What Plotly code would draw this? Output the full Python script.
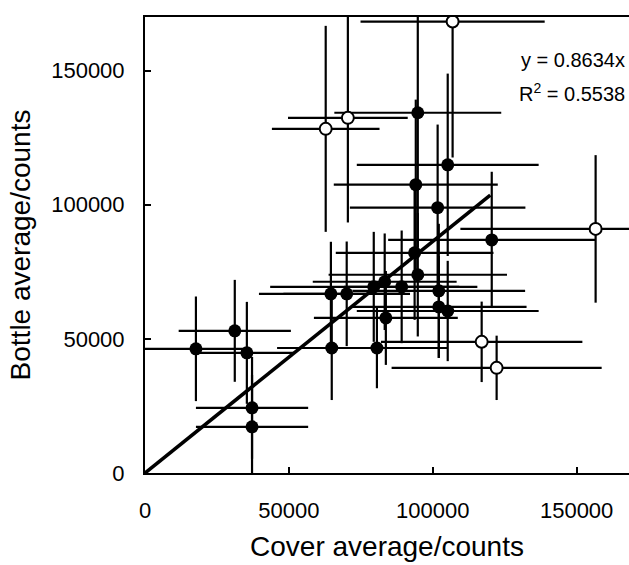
import plotly.graph_objects as go

# Filled (closed) symbols: cover average, bottle average, x error, y error
filled_x = [17700, 31200, 35400, 37200, 37200, 64600, 64900, 70100, 80600, 79500,
            83300, 83700, 89200, 93700, 94800, 102100, 102100, 105200, 101700, 94100,
            105200, 94800, 120500]
filled_y = [46300, 53000, 44800, 24300, 17200, 66800, 46600, 66800, 46600, 69400,
            71300, 57800, 69400, 82100, 73900, 67900, 61900, 60400, 98900, 107500,
            114900, 134300, 86900]
filled_xerr = [19000, 19500, 16500, 19500, 19500, 25000, 19000, 22000, 24700, 36000,
               25000, 25000, 20000, 27400, 31000, 30000, 30500, 31600, 30500, 28500,
               31600, 29000, 36000]
filled_yerr = [19500, 19000, 19000, 19000, 19400, 19400, 19400, 19500, 15000, 20500,
               18000, 17500, 21000, 25000, 23000, 25000, 19000, 18700, 31000, 31700,
               34000, 50000, 25400]

# Open symbols
open_x = [62800, 70500, 106900, 156600, 117000, 122200]
open_y = [128300, 132400, 168300, 91000, 48900, 39200]
open_xerr = [18700, 20800, 32000, 47000, 35000, 36500]
open_yerr = [38400, 39000, 50700, 27500, 15000, 12000]

# Regression through origin
slope = 0.8634
r_squared = 0.5538
fit_x = [0, 120000]
fit_y = [slope * v for v in fit_x]

tick_vals = [0, 50000, 100000, 150000]
tick_text = ["0", "50000", "100000", "150000"]

FONT = "Liberation Sans, Arial, sans-serif"

fig = go.Figure()

fig.add_trace(go.Scatter(
    x=filled_x, y=filled_y, mode="markers",
    marker=dict(size=13, color="black", line=dict(width=0)),
    error_x=dict(type="data", array=filled_xerr, width=0, thickness=2.2, color="black"),
    error_y=dict(type="data", array=filled_yerr, width=0, thickness=2.2, color="black"),
))

fig.add_trace(go.Scatter(
    x=fit_x, y=fit_y, mode="lines",
    line=dict(color="black", width=3.6),
))

fig.add_trace(go.Scatter(
    x=open_x, y=open_y, mode="markers",
    marker=dict(size=12, color="white", line=dict(width=2, color="black")),
    error_x=dict(type="data", array=open_xerr, width=0, thickness=2.2, color="black"),
    error_y=dict(type="data", array=open_yerr, width=0, thickness=2.2, color="black"),
))

fig.add_annotation(x=1, y=1, xref="paper", yref="paper", xanchor="right", yanchor="middle",
                   xshift=-2, yshift=-43, showarrow=False,
                   text=f"y = {slope:.4f}x",
                   font=dict(family=FONT, size=20, color="black"))
fig.add_annotation(x=1, y=1, xref="paper", yref="paper", xanchor="right", yanchor="middle",
                   xshift=-2, yshift=-75, showarrow=False,
                   text=f"R<sup>2</sup> = {r_squared:.4f}",
                   font=dict(family=FONT, size=20, color="black"))

fig.update_layout(
    width=629, height=565,
    margin=dict(l=145, r=0, t=17, b=92),
    plot_bgcolor="white", paper_bgcolor="white",
    showlegend=False,
    font=dict(family=FONT, color="black"),
)

fig.update_xaxes(
    range=[0, 168200], tickvals=tick_vals, ticktext=tick_text,
    ticks="inside", ticklen=6, tickwidth=2, tickcolor="black",
    showline=True, linewidth=2, linecolor="black", mirror=True,
    showgrid=False, zeroline=False,
    tickfont=dict(size=22, family=FONT, color="black"),
    ticklabelstandoff=17,
    title=dict(text="Cover average/counts", font=dict(size=28, family=FONT, color="black"), standoff=14),
)
fig.update_yaxes(
    range=[0, 170000], tickvals=tick_vals, ticktext=tick_text,
    ticks="inside", ticklen=6, tickwidth=2, tickcolor="black",
    showline=True, linewidth=2, linecolor="black", mirror=False,
    showgrid=False, zeroline=False,
    tickfont=dict(size=22, family=FONT, color="black"),
    ticklabelstandoff=14,
    title=dict(text="Bottle average/counts", font=dict(size=28, family=FONT, color="black"), standoff=12),
)

fig.write_html("out.html")
